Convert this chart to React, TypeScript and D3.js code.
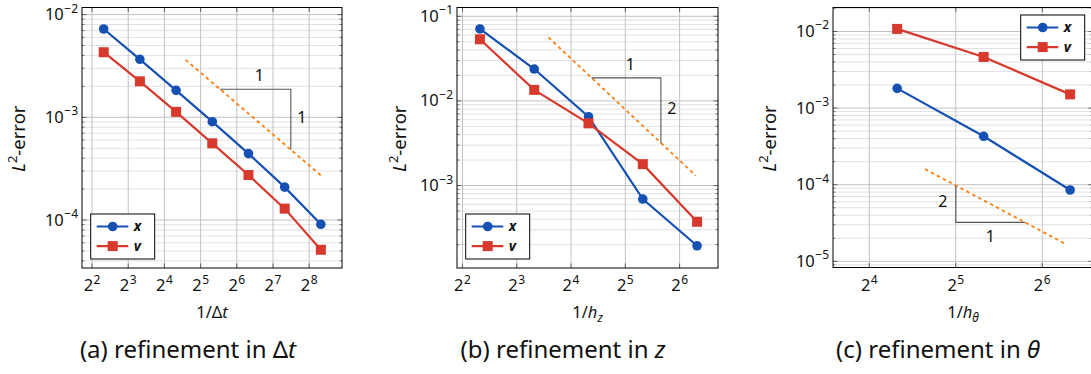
import React from 'react';
import * as d3 from 'd3';

// ---------- data ----------
const refineDt = [5, 10, 20, 40, 80, 160, 320];
const errXDt = [7.24e-3, 3.67e-3, 1.83e-3, 9.06e-4, 4.43e-4, 2.09e-4, 9.08e-5];
const errVDt = [4.3e-3, 2.24e-3, 1.13e-3, 5.58e-4, 2.74e-4, 1.29e-4, 5.13e-5];

const refineZ = [5, 10, 20, 40, 80];
const errXZ = [7.08e-2, 2.38e-2, 6.5e-3, 6.92e-4, 1.94e-4];
const errVZ = [5.35e-2, 1.35e-2, 5.43e-3, 1.79e-3, 3.73e-4];

const refineTheta = [20, 40, 80];
const errXTheta = [1.81e-3, 4.28e-4, 8.53e-5];
const errVTheta = [1.08e-2, 4.65e-3, 1.51e-3];

const seriesNames = ['x', 'v'];

const slopeDt = { c: 0.087, order: 1, from: 24, to: 320, triFrom: 46.4, triTo: 180 };
const slopeZ = { c: 8.1, order: 2, from: 12, to: 78.6, triFrom: 20.8, triTo: 50.4 };
const slopeTheta = { c: 0.1, order: 2, from: 25, to: 77, triFrom: 32, triTo: 55.7 };

// ---------- style ----------
const BLUE = '#1551b3';
const RED = '#d8392d';
const ORANGE = '#ff7f0e';
const FONT = '"Noto Sans", sans-serif';

const panels = [
  {
    id: 'a', xs: refineDt, ex: errXDt, ev: errVDt, slope: slopeDt, tri: 'above',
    left: 82, right: 342, top: 7.5, bottom: 268,
    xDomain: [3.30, 479.6], yDomain: [3.41e-5, 1.172e-2],
    legend: 'bl', ylabX: 19, xlab: 'dt', caption: 'a', capX: 188,
  },
  {
    id: 'b', xs: refineZ, ex: errXZ, ev: errVZ, slope: slopeZ, tri: 'above',
    left: 457, right: 718, top: 7.5, bottom: 268,
    xDomain: [3.73, 104.5], yDomain: [1.06e-4, 0.127],
    legend: 'bl', ylabX: 400, xlab: 'z', caption: 'b', capX: 563,
  },
  {
    id: 'c', xs: refineTheta, ex: errXTheta, ev: errVTheta, slope: slopeTheta, tri: 'below',
    left: 833, right: 1093, top: 7.5, bottom: 267.5,
    xDomain: [11.96, 96.1], yDomain: [8.3e-6, 2.056e-2],
    legend: 'tr', ylabX: 770, xlab: 'theta', caption: 'c', capX: 938,
  },
];

const sup = (s: string) => s.replace('-', '\u2212');

function Panel({ p }: { p: any }) {
  const x = d3.scaleLog().base(2).domain(p.xDomain).range([p.left, p.right]);
  const y = d3.scaleLog().base(10).domain(p.yDomain).range([p.bottom, p.top]);

  const xExps = d3.range(Math.ceil(Math.log2(p.xDomain[0])), Math.floor(Math.log2(p.xDomain[1])) + 1);
  const yExps = d3.range(Math.ceil(Math.log10(p.yDomain[0]) - 1e-9), Math.floor(Math.log10(p.yDomain[1])) + 1);
  const yMinor: number[] = [];
  for (let d = Math.floor(Math.log10(p.yDomain[0])); d <= Math.floor(Math.log10(p.yDomain[1])); d++) {
    for (let k = 2; k <= 9; k++) {
      const v = k * Math.pow(10, d);
      if (v > p.yDomain[0] && v < p.yDomain[1]) yMinor.push(v);
    }
  }
  const line = d3.line<[number, number]>().x((d) => x(d[0])).y((d) => y(d[1]));
  const ptsX: [number, number][] = p.xs.map((v: number, i: number) => [v, p.ex[i]]);
  const ptsV: [number, number][] = p.xs.map((v: number, i: number) => [v, p.ev[i]]);

  const s = p.slope;
  const f = (t: number) => s.c / Math.pow(t, s.order);
  const refPts: [number, number][] = [[s.from, f(s.from)], [s.to, f(s.to)]];
  const tx0 = x(s.triFrom), tx1 = x(s.triTo), ty0 = y(f(s.triFrom)), ty1 = y(f(s.triTo));
  const triPath = p.tri === 'above'
    ? `M${tx0},${ty0}H${tx1}V${ty1}`
    : `M${tx0},${ty0}V${ty1}H${tx1}`;

  const lw = 64, lh = 45;
  const lx = p.legend === 'bl' ? p.left + 8.7 : p.right - 8.3 - lw;
  const ly = p.legend === 'bl' ? p.bottom - 9 - lh : p.top + 7.5;

  const clipId = `clip-${p.id}`;
  const midY = (p.top + p.bottom) / 2;

  return (
    <g>
      <defs>
        <clipPath id={clipId}>
          <rect x={p.left} y={p.top} width={p.right - p.left} height={p.bottom - p.top} />
        </clipPath>
      </defs>
      {yMinor.map((v, i) => (
        <line key={'ym' + i} x1={p.left} x2={p.right} y1={y(v)} y2={y(v)} stroke="#e2e2e2" strokeWidth={1} />
      ))}
      {yExps.map((e) => (
        <line key={'yM' + e} x1={p.left} x2={p.right} y1={y(Math.pow(10, e))} y2={y(Math.pow(10, e))} stroke="#c2c2c2" strokeWidth={1} />
      ))}
      {xExps.map((e) => (
        <line key={'xM' + e} x1={x(Math.pow(2, e))} x2={x(Math.pow(2, e))} y1={p.top} y2={p.bottom} stroke="#c2c2c2" strokeWidth={1} />
      ))}
      {yMinor.map((v, i) => (
        <g key={'ymt' + i} stroke="#333" strokeWidth={0.6}>
          <line x1={p.left} x2={p.left + 2.5} y1={y(v)} y2={y(v)} />
          <line x1={p.right} x2={p.right - 2.5} y1={y(v)} y2={y(v)} />
        </g>
      ))}
      {yExps.map((e) => (
        <g key={'yMt' + e} stroke="#333" strokeWidth={0.7}>
          <line x1={p.left} x2={p.left + 4.5} y1={y(Math.pow(10, e))} y2={y(Math.pow(10, e))} />
          <line x1={p.right} x2={p.right - 4.5} y1={y(Math.pow(10, e))} y2={y(Math.pow(10, e))} />
        </g>
      ))}
      {xExps.map((e) => (
        <g key={'xMt' + e} stroke="#333" strokeWidth={0.7}>
          <line x1={x(Math.pow(2, e))} x2={x(Math.pow(2, e))} y1={p.bottom} y2={p.bottom - 4.5} />
          <line x1={x(Math.pow(2, e))} x2={x(Math.pow(2, e))} y1={p.top} y2={p.top + 4.5} />
        </g>
      ))}
      <g clipPath={`url(#${clipId})`}>
        <path d={line(refPts) || ''} fill="none" stroke={ORANGE} strokeWidth={1.8} strokeDasharray="3.5,3.2" />
        <path d={triPath} fill="none" stroke="#555" strokeWidth={1.1} />
        <path d={line(ptsX) || ''} fill="none" stroke={BLUE} strokeWidth={2.2} />
        <path d={line(ptsV) || ''} fill="none" stroke={RED} strokeWidth={2.2} />
        {ptsX.map((d, i) => (
          <circle key={'cx' + i} cx={x(d[0])} cy={y(d[1])} r={4.8} fill={BLUE} />
        ))}
        {ptsV.map((d, i) => (
          <rect key={'rv' + i} x={x(d[0]) - 5} y={y(d[1]) - 5} width={10} height={10} fill={RED} />
        ))}
      </g>
      {p.tri === 'above' ? (
        <g fontFamily={FONT} fontSize={16} fill="#111">
          <text x={(tx0 + tx1) / 2 + 4} y={ty0 - 8} textAnchor="middle">1</text>
          <text x={tx1 + 11} y={(ty0 + ty1) / 2 + 4} textAnchor="middle">{String(s.order)}</text>
        </g>
      ) : (
        <g fontFamily={FONT} fontSize={16} fill="#111">
          <text x={tx0 - 13} y={(ty0 + ty1) / 2 + 3} textAnchor="middle">{String(s.order)}</text>
          <text x={(tx0 + tx1) / 2} y={ty1 + 19.5} textAnchor="middle">1</text>
        </g>
      )}
      <rect x={p.left} y={p.top} width={p.right - p.left} height={p.bottom - p.top} fill="none" stroke="#000" strokeWidth={1} />
      {yExps.map((e) => (
        <text key={'yl' + e} x={p.left - 4} y={y(Math.pow(10, e)) + 5.5} textAnchor="end" fontFamily={FONT} fontSize={16.5} fill="#111">
          10<tspan dx={0.5} dy={-7.5} fontSize={12}>{sup(String(e))}</tspan>
        </text>
      ))}
      {xExps.map((e) => (
        <text key={'xl' + e} x={x(Math.pow(2, e))} y={291} textAnchor="middle" fontFamily={FONT} fontSize={16.5} fill="#111">
          2<tspan dx={0.5} dy={-7.5} fontSize={12}>{String(e)}</tspan>
        </text>
      ))}
      <text transform={`translate(${p.ylabX + 5.5},${midY + 1}) rotate(-90)`} textAnchor="middle" fontFamily={FONT} fontSize={18.5} fill="#111">
        <tspan fontStyle="italic">L</tspan>
        <tspan dy={-7.5} fontSize={13}>2</tspan>
        <tspan dy={7.5}>-error</tspan>
      </text>
      <text x={(p.left + p.right) / 2} y={318} textAnchor="middle" fontFamily={FONT} fontSize={16.5} fill="#111">
        {p.xlab === 'dt' && (<>1/Δ<tspan fontStyle="italic">t</tspan></>)}
        {p.xlab === 'z' && (<>1/<tspan fontStyle="italic">h</tspan><tspan dy={4} fontSize={12} fontStyle="italic">z</tspan></>)}
        {p.xlab === 'theta' && (<>1/<tspan fontStyle="italic">h</tspan><tspan dy={4} fontSize={12} fontStyle="italic">θ</tspan></>)}
      </text>
      <text x={p.capX} y={358} textAnchor="middle" fontFamily={FONT} fontSize={24} fill="#111">
        {p.caption === 'a' && (<>(a) refinement in Δ<tspan fontStyle="italic">t</tspan></>)}
        {p.caption === 'b' && (<>(b) refinement in <tspan fontStyle="italic">z</tspan></>)}
        {p.caption === 'c' && (<>(c) refinement in <tspan fontStyle="italic">θ</tspan></>)}
      </text>
      <g>
        <rect x={lx} y={ly} width={lw} height={lh} fill="#fff" stroke="#000" strokeWidth={1} />
        {seriesNames.map((n, i) => {
          const ry = ly + 12.5 + i * 19.6;
          const col = i === 0 ? BLUE : RED;
          return (
            <g key={n}>
              <line x1={lx + 6} x2={lx + 37.6} y1={ry} y2={ry} stroke={col} strokeWidth={2.2} />
              {i === 0 ? (
                <circle cx={lx + 22} cy={ry} r={4.8} fill={col} />
              ) : (
                <rect x={lx + 22 - 5} y={ry - 5} width={10} height={10} fill={col} />
              )}
              <text x={lx + 43} y={ry + 4.5} fontFamily={FONT} fontSize={14} fontWeight="bold" fontStyle="italic" fill="#111">{n}</text>
            </g>
          );
        })}
      </g>
    </g>
  );
}

export default function App() {
  return (
    <svg width={1091} height={374} style={{ position: 'absolute', left: 0, top: 0, background: '#fff' }}>
      <rect x={0} y={0} width={1091} height={374} fill="#fff" />
      {panels.map((p) => (
        <Panel key={p.id} p={p} />
      ))}
    </svg>
  );
}
